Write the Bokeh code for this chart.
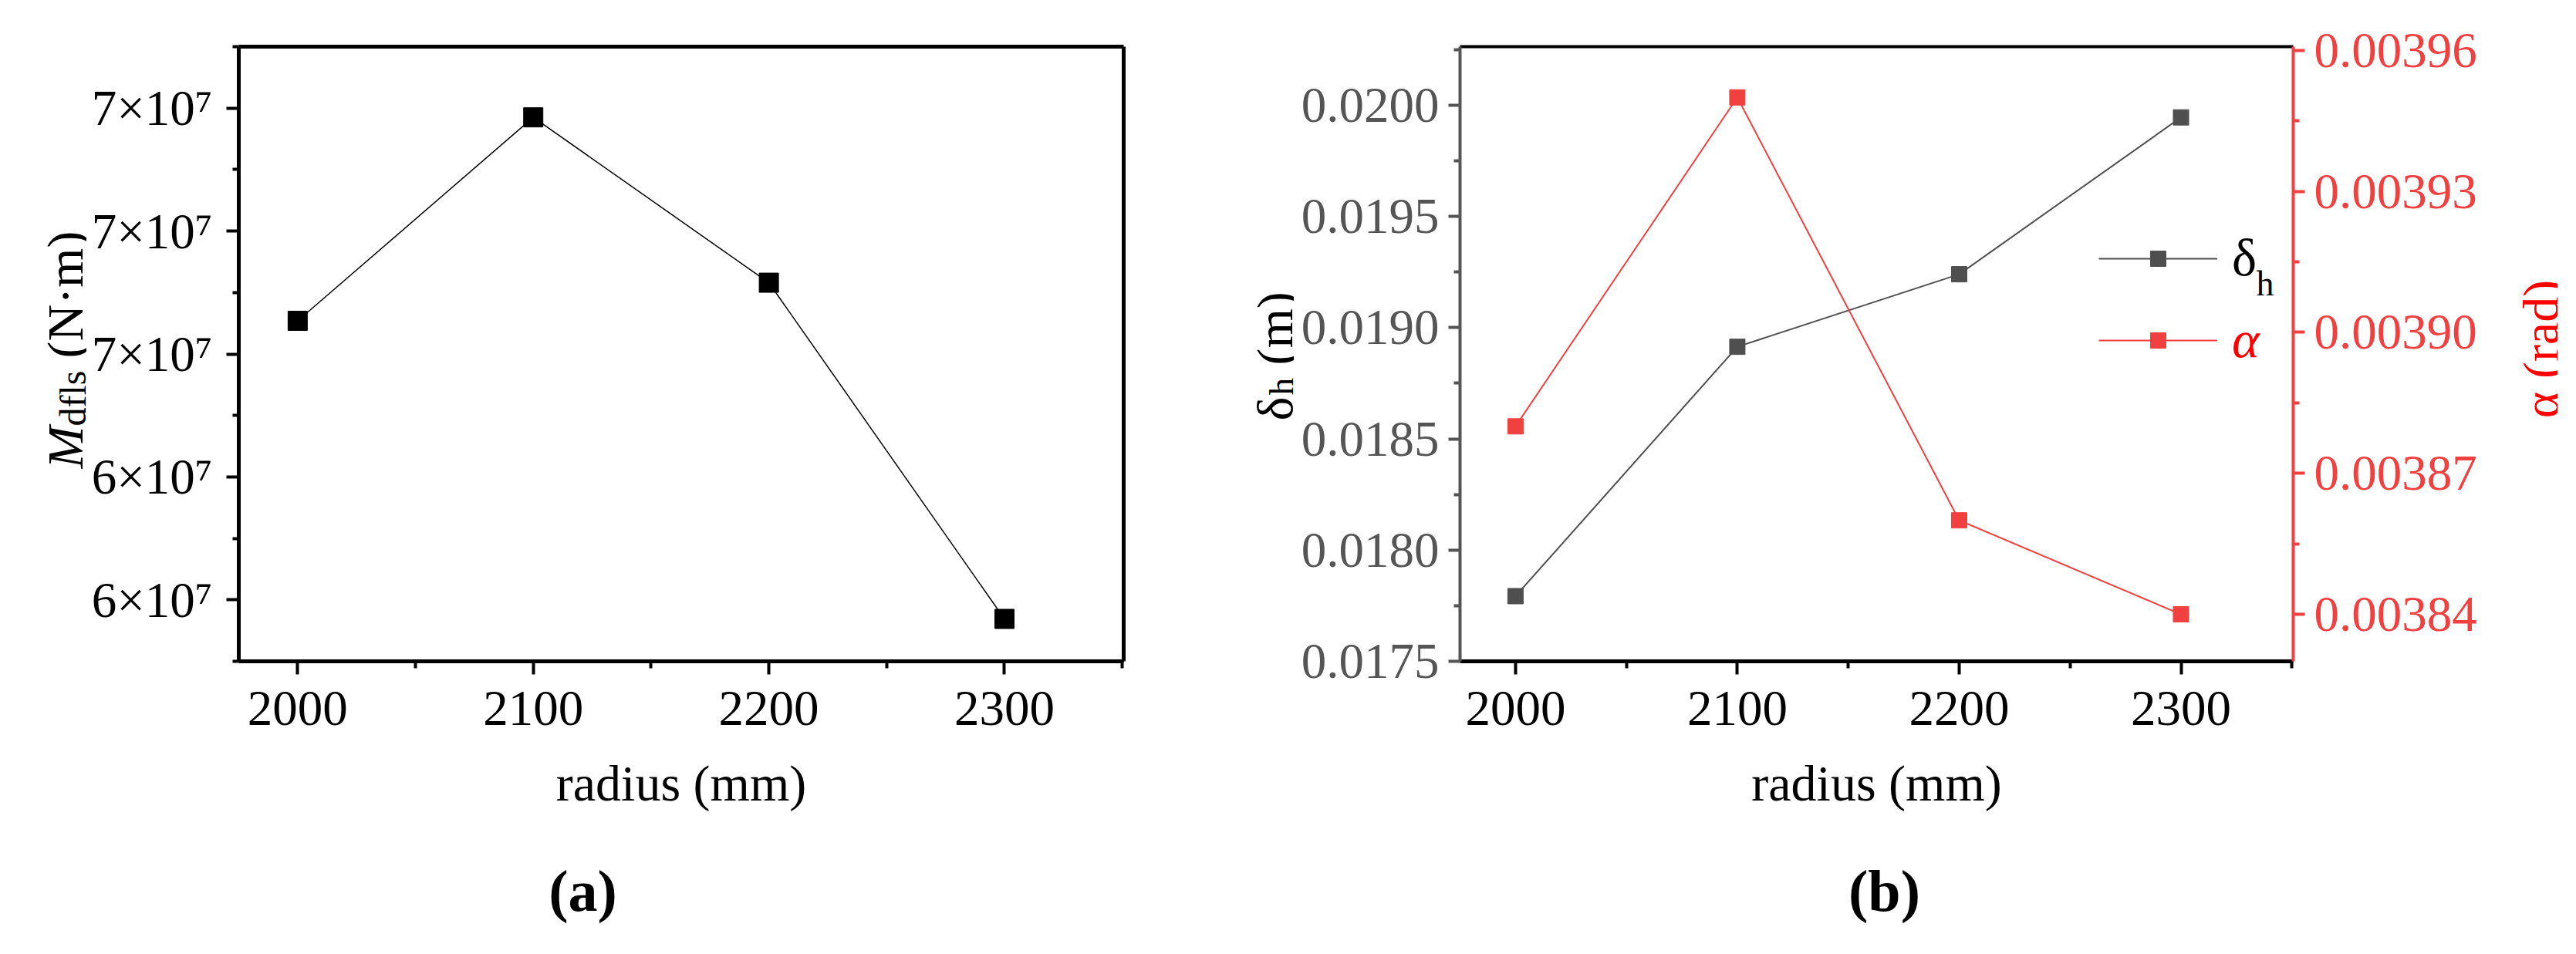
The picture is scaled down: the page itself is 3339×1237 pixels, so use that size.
import math
from bokeh.plotting import figure
from bokeh.models import (Range1d, LinearAxis, FixedTicker, PrintfTickFormatter,
                          Label, Legend, LegendItem)
from bokeh.layouts import row, column
from bokeh.embed import file_html
from bokeh.resources import INLINE

# ---------------- data ----------------
radius_mm = [2000, 2100, 2200, 2300]
M_dfls = [6.554e7, 6.885e7, 6.616e7, 6.069e7]          # N·m
delta_h = [0.017793, 0.018914, 0.019240, 0.019945]      # m
alpha_rad = [0.003880, 0.003950, 0.003860, 0.003840]    # rad

x_ticks = [2000, 2100, 2200, 2300]
x_minor = [2050, 2150, 2250, 2350]
M_ticks = [6.1e7, 6.3e7, 6.5e7, 6.7e7, 6.9e7]
M_minor = [6.0e7, 6.2e7, 6.4e7, 6.6e7, 6.8e7, 7.0e7]
M_tick_labels = ["6×10⁷", "6×10⁷", "7×10⁷", "7×10⁷", "7×10⁷"]
d_ticks = [0.0175, 0.0180, 0.0185, 0.0190, 0.0195, 0.0200]
d_minor = [0.01775, 0.01825, 0.01875, 0.01925, 0.01975, 0.02025]
a_ticks = [0.00384, 0.00387, 0.00390, 0.00393, 0.00396]
a_minor = [0.003855, 0.003885, 0.003915, 0.003945]

FONT = "Liberation Serif"
GRAY = "#4f4f4f"
GRAY_AX = "#555555"
RED = "#f04040"
PURE_RED = "#ff0000"
TICK_FS = "65px"
TITLE_FS = "66px"

# shared vertical geometry of every figure in the top row
TOP, FH, BOT = 60, 797, 243
ROW_H = TOP + FH + BOT
BOTTOM_H = 118


def style_axis(ax, color, width, tick_out, minor_out, standoff, fs=TICK_FS, label_color=None):
    ax.axis_line_color = color
    ax.axis_line_width = width
    ax.major_tick_line_color = color
    ax.major_tick_line_width = 4
    ax.minor_tick_line_color = color
    ax.minor_tick_line_width = 4
    ax.major_tick_out = tick_out
    ax.major_tick_in = 0
    ax.minor_tick_out = minor_out
    ax.minor_tick_in = 0
    ax.major_label_standoff = standoff
    ax.major_label_text_font = FONT
    ax.major_label_text_font_size = fs
    ax.major_label_text_color = label_color or color


def border_axis(p, side, width, color="black", **kw):
    ax = LinearAxis(ticker=FixedTicker(ticks=[]), axis_line_color=color,
                    axis_line_width=width, major_tick_out=0, minor_tick_out=0,
                    major_label_text_font_size="0px", major_label_standoff=0, **kw)
    p.add_layout(ax, side)


def text_canvas(w, top, fh, bot):
    """Blank figure (no axes); data units equal pixels measured from its bottom-left corner."""
    t = figure(frame_width=w, frame_height=fh, min_border_left=0, min_border_right=0,
               min_border_top=top, min_border_bottom=bot,
               x_range=Range1d(0, w), y_range=Range1d(bot, bot + fh),
               x_axis_type=None, y_axis_type=None, output_backend="svg", toolbar_location=None)
    t.outline_line_color = None
    t.background_fill_color = "white"
    t.border_fill_color = "white"
    return t


def lab(p, x, y, text, size, color="black", style="normal", angle=0.0, align="left",
        baseline="alphabetic"):
    p.add_layout(Label(x=x, y=y, text=text, angle=angle, text_font=FONT, text_font_size=size,
                       text_font_style=style, text_color=color, text_align=align,
                       text_baseline=baseline))


def xaxis(p):
    ax = LinearAxis(ticker=FixedTicker(ticks=x_ticks, minor_ticks=x_minor),
                    axis_label="radius (mm)")
    style_axis(ax, "black", 5, 17, 9, 22)
    ax.axis_label_text_font = FONT
    ax.axis_label_text_font_size = TITLE_FS
    ax.axis_label_text_font_style = "normal"
    ax.axis_label_text_color = "black"
    ax.axis_label_standoff = 36
    p.add_layout(ax, "below")


# ---------------- panel (a) ----------------
pa = figure(frame_width=1147, frame_height=FH,
            min_border_left=197, min_border_right=111,
            min_border_top=TOP, min_border_bottom=BOT,
            x_range=Range1d(1975, 2350.6), y_range=Range1d(6.0e7, 7.0e7),
            x_axis_type=None, y_axis_type=None,
            output_backend="svg", toolbar_location=None)
pa.outline_line_color = None
pa.background_fill_color = "white"
pa.border_fill_color = "white"

xaxis(pa)
ya = LinearAxis(ticker=FixedTicker(ticks=M_ticks, minor_ticks=M_minor),
                major_label_overrides=dict(zip(M_ticks, M_tick_labels)))
style_axis(ya, "black", 5, 16, 8, 18)
pa.add_layout(ya, "left")
border_axis(pa, "above", 5)
border_axis(pa, "right", 5)

pa.line(radius_mm, M_dfls, line_color="black", line_width=1.5)
pa.scatter(radius_mm, M_dfls, marker="square", size=25, fill_color="black", line_color="black")

# y title of (a): M_dfls (N·m)
ta = text_canvas(112, TOP, FH, BOT)
lab(ta, 84, 493, "M", "66px", style="italic", angle=math.pi / 2)
lab(ta, 94, 548, "dfls", "48px", angle=math.pi / 2)
lab(ta, 84, 636, "(N·m)", "66px", angle=math.pi / 2)

# ---------------- panel (b) ----------------
pb = figure(frame_width=1080, frame_height=FH,
            min_border_left=215, min_border_right=255,
            min_border_top=TOP, min_border_bottom=BOT,
            x_range=Range1d(1975, 2350.6), y_range=Range1d(0.0175, 0.020263),
            x_axis_type=None, y_axis_type=None,
            output_backend="svg", toolbar_location=None)
pb.extra_y_ranges = {"alpha": Range1d(0.00383, 0.0039608)}
pb.outline_line_color = None
pb.background_fill_color = "white"
pb.border_fill_color = "white"

xaxis(pb)
yb = LinearAxis(ticker=FixedTicker(ticks=d_ticks, minor_ticks=d_minor),
                formatter=PrintfTickFormatter(format="%.4f"))
style_axis(yb, GRAY_AX, 4, 15, 8, 12)
pb.add_layout(yb, "left")

yr = LinearAxis(y_range_name="alpha", ticker=FixedTicker(ticks=a_ticks, minor_ticks=a_minor),
                formatter=PrintfTickFormatter(format="%.5f"))
style_axis(yr, RED, 4, 15, 8, 12)
pb.add_layout(yr, "right")
border_axis(pb, "above", 4)

ld = pb.line(radius_mm, delta_h, line_color=GRAY, line_width=2)
sd = pb.scatter(radius_mm, delta_h, marker="square", size=20, fill_color=GRAY, line_color=GRAY)
la = pb.line(radius_mm, alpha_rad, line_color=RED, line_width=2, y_range_name="alpha")
sa = pb.scatter(radius_mm, alpha_rad, marker="square", size=20, fill_color=RED, line_color=RED,
                y_range_name="alpha")

leg_common = dict(glyph_width=154, glyph_height=50, label_standoff=19, padding=0, margin=0,
                  spacing=0, border_line_color=None, background_fill_alpha=0,
                  label_text_font=FONT, label_text_font_size="68px")
leg_d = Legend(items=[LegendItem(label="δ", renderers=[ld, sd])], location=(828, 483),
               label_text_color="black", **leg_common)
leg_a = Legend(items=[LegendItem(label="α", renderers=[la, sa])], location=(828, 377),
               label_text_color=PURE_RED, label_text_font_style="italic", **leg_common)
pb.add_layout(leg_d)
pb.add_layout(leg_a)
pb.add_layout(Label(x=1032, y=490, x_units="screen", y_units="screen", text="h",
                    text_font=FONT, text_font_size="46px", text_align="left",
                    text_baseline="alphabetic", text_color="black"))

# y title left of (b): δh (m)
tb = text_canvas(110, TOP, FH, BOT)
lab(tb, 85, 555, "δ", "66px", angle=math.pi / 2)
lab(tb, 93, 588, "h", "45px", angle=math.pi / 2)
lab(tb, 85, 627, "(m)", "66px", angle=math.pi / 2)

# y title right of (b): α (rad)
tr = text_canvas(88, TOP, FH, BOT)
lab(tr, 66, 648, "α (rad)", "66px", color=PURE_RED, angle=math.pi / 2, align="center")

# ---------------- panel captions ----------------
bottom = text_canvas(3315, 0, BOTTOM_H, 0)
lab(bottom, 755, 64, "(a)", "76px", style="bold", align="center", baseline="middle")
lab(bottom, 2442, 64, "(b)", "76px", style="bold", align="center", baseline="middle")

layout = column(row(ta, pa, tb, pb, tr), bottom)
open("out.html", "w").write(file_html(layout, INLINE))
